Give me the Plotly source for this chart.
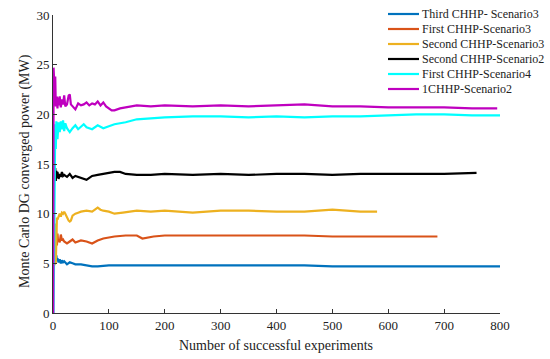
import plotly.graph_objects as go

# ---- data ----
names = ["Third CHHP- Scenario3", "First CHHP-Scenario3", "Second CHHP-Scenario3",
         "Second CHHP-Scenario2", "First CHHP-Scenario4", "1CHHP-Scenario2"]
colors = ["#0072BD", "#D95319", "#EDB120", "#000000", "#00FFFF", "#BF00BF"]

blue_x = [5, 6, 7, 8, 10, 12, 14, 16, 18, 20, 25, 30, 35, 40, 50, 60, 70, 80, 100, 150, 200,
          250, 300, 350, 400, 450, 500, 550, 600, 650, 700, 750, 800]
blue_y = [5.5, 5.8, 5.3, 5.5, 5.1, 5.4, 5.0, 5.3, 5.1, 5.2, 4.9, 5.1, 5.0, 4.9, 4.9, 4.8, 4.7, 4.7,
          4.8, 4.8, 4.8, 4.8, 4.8, 4.8, 4.8, 4.8, 4.7, 4.7, 4.7, 4.7, 4.7, 4.7, 4.7]

orange_x = [4, 5, 6, 7, 8, 9, 10, 12, 14, 16, 18, 20, 25, 30, 35, 40, 50, 60, 70, 80, 90, 100,
            110, 130, 150, 160, 170, 180, 200, 250, 300, 350, 400, 450, 500, 550, 600, 650, 688]
orange_y = [8.6, 8.9, 7.5, 6.8, 8.0, 7.2, 7.4, 7.1, 7.9, 7.3, 7.4, 7.2, 7.0, 7.2, 7.4, 7.1, 7.3,
            7.2, 7.0, 7.3, 7.5, 7.6, 7.7, 7.8, 7.8, 7.5, 7.6, 7.7, 7.8, 7.8, 7.8, 7.8, 7.8, 7.8,
            7.7, 7.7, 7.7, 7.7, 7.7]

yellow_x = [3, 4, 5, 6, 7, 8, 10, 12, 14, 16, 18, 20, 22, 25, 28, 30, 32, 35, 40, 45, 50, 60,
            70, 75, 80, 85, 90, 100, 110, 125, 150, 175, 200, 250, 300, 350, 400, 450, 500,
            550, 580]
yellow_y = [4.8, 9.0, 5.0, 9.2, 9.6, 9.4, 9.8, 10.0, 9.7, 10.1, 10.0, 10.2, 10.0, 9.6, 9.3, 9.2,
            9.3, 9.8, 10.0, 10.1, 10.2, 10.3, 10.2, 10.4, 10.6, 10.4, 10.3, 10.2, 10.0, 10.1,
            10.3, 10.2, 10.3, 10.1, 10.3, 10.3, 10.2, 10.2, 10.4, 10.2, 10.2]

black_x = [2, 3, 4, 5, 6, 7, 8, 10, 12, 14, 16, 18, 20, 25, 30, 35, 40, 45, 50, 55, 60, 65, 70,
           80, 90, 100, 110, 120, 130, 150, 175, 200, 250, 300, 350, 400, 450, 500, 550, 600,
           650, 700, 758]
black_y = [15.0, 13.5, 14.6, 13.3, 14.3, 13.6, 14.2, 13.5, 14.0, 13.7, 14.2, 13.8, 13.9, 13.7,
           14.0, 13.6, 13.8, 13.7, 13.6, 13.5, 13.4, 13.6, 13.8, 13.9, 14.0, 14.1, 14.2, 14.2,
           14.0, 13.9, 13.9, 14.0, 13.9, 14.0, 13.9, 14.0, 14.0, 13.9, 14.0, 14.0, 14.0, 14.0,
           14.1]

cyan_x = [1, 3, 4, 5, 6, 8, 10, 12, 14, 16, 18, 20, 22, 25, 30, 35, 40, 45, 50, 55, 60, 70,
          80, 90, 100, 110, 130, 150, 175, 200, 250, 300, 350, 400, 450, 500, 550, 600, 650,
          700, 750, 800]
cyan_y = [0.0, 13.0, 19.0, 16.5, 19.3, 17.5, 19.2, 18.2, 19.3, 18.5, 19.4, 18.3, 19.1, 18.6,
          18.2, 18.6, 18.9, 18.5, 18.8, 19.0, 18.7, 18.5, 18.9, 18.6, 18.8, 19.0, 19.2, 19.5,
          19.6, 19.7, 19.8, 19.8, 19.7, 19.8, 19.7, 19.8, 19.8, 19.9, 20.0, 20.0, 19.9, 19.9]

mag_x = [0.5, 1, 2, 3, 4, 5, 6, 7, 8, 9, 10, 12, 14, 16, 18, 20, 22, 25, 28, 30, 32, 35, 40,
         45, 50, 55, 60, 65, 70, 75, 80, 85, 90, 95, 100, 105, 110, 120, 130, 150, 175, 200,
         250, 300, 350, 400, 450, 500, 550, 600, 650, 700, 750, 795]
mag_y = [0.0, 24.7, 23.5, 21.0, 23.8, 20.8, 21.5, 21.8, 20.6, 21.7, 20.9, 21.8, 20.7, 21.5,
         21.0, 21.9, 20.8, 21.0, 21.9, 22.0, 21.0, 20.8, 20.5, 21.1, 20.9, 21.0, 21.2, 20.9,
         21.1, 21.0, 21.3, 20.9, 21.2, 20.8, 20.6, 20.4, 20.4, 20.6, 20.7, 20.9, 20.8, 20.9,
         20.8, 20.9, 20.8, 20.9, 21.0, 20.8, 20.8, 20.7, 20.7, 20.7, 20.6, 20.6]

xs = [blue_x, orange_x, yellow_x, black_x, cyan_x, mag_x]
ys = [blue_y, orange_y, yellow_y, black_y, cyan_y, mag_y]

x_ticks = [0, 100, 200, 300, 400, 500, 600, 700, 800]
y_ticks = [0, 5, 10, 15, 20, 25, 30]

FONT = "Liberation Serif"

W, H = 550, 359
ML, MR, MT, MB = 53, 50, 15, 46
PW, PH = W - ML - MR, H - MT - MB

fig = go.Figure()
for n, c, x, y in zip(names, colors, xs, ys):
    fig.add_trace(go.Scatter(x=x, y=y, mode="lines", name=n, showlegend=False,
                             line=dict(color=c, width=2.2)))

# pixel -> paper helpers
def px_x(p):
    return (p - ML) / PW

def px_y(p):
    return 1 - (p - MT) / PH

shapes, annotations = [], []
for i, (n, c) in enumerate(zip(names, colors)):
    yy = 14 + 15 * i
    shapes.append(dict(type="line", xref="paper", yref="paper",
                       x0=px_x(388), x1=px_x(419), y0=px_y(yy), y1=px_y(yy),
                       line=dict(color=c, width=2.2)))
    annotations.append(dict(xref="paper", yref="paper", x=px_x(420), y=px_y(yy),
                            xanchor="left", yanchor="middle", showarrow=False, text=n,
                            font=dict(family=FONT, size=12, color="#222222")))

# axis titles
annotations.append(dict(xref="paper", yref="paper", x=px_x(276), y=px_y(346),
                        xanchor="center", yanchor="middle", showarrow=False,
                        text="Number of successful experiments",
                        font=dict(family=FONT, size=14, color="#222222")))
annotations.append(dict(xref="paper", yref="paper", x=px_x(25), y=px_y(171),
                        xanchor="center", yanchor="middle", showarrow=False, textangle=-90,
                        text="Monte Carlo DG converged power (MW)",
                        font=dict(family=FONT, size=14, color="#222222")))

axis_common = dict(showline=True, linecolor="#333333", linewidth=1, ticks="inside",
                   ticklen=4, tickcolor="#333333", showgrid=False, zeroline=False,
                   tickfont=dict(family=FONT, size=13, color="#222222"), mirror=False,
                   automargin=False)

fig.update_layout(
    width=W, height=H,
    margin=dict(l=ML, r=MR, t=MT, b=MB),
    paper_bgcolor="white", plot_bgcolor="white",
    font=dict(family=FONT, color="#222222"),
    xaxis=dict(range=[0, 800], tickvals=x_ticks, **axis_common),
    yaxis=dict(range=[0, 30], tickvals=y_ticks, **axis_common),
    shapes=shapes, annotations=annotations,
    showlegend=False,
)

fig.write_html("out.html", config={"displayModeBar": False},
               post_script="document.body.style.margin='0';")
